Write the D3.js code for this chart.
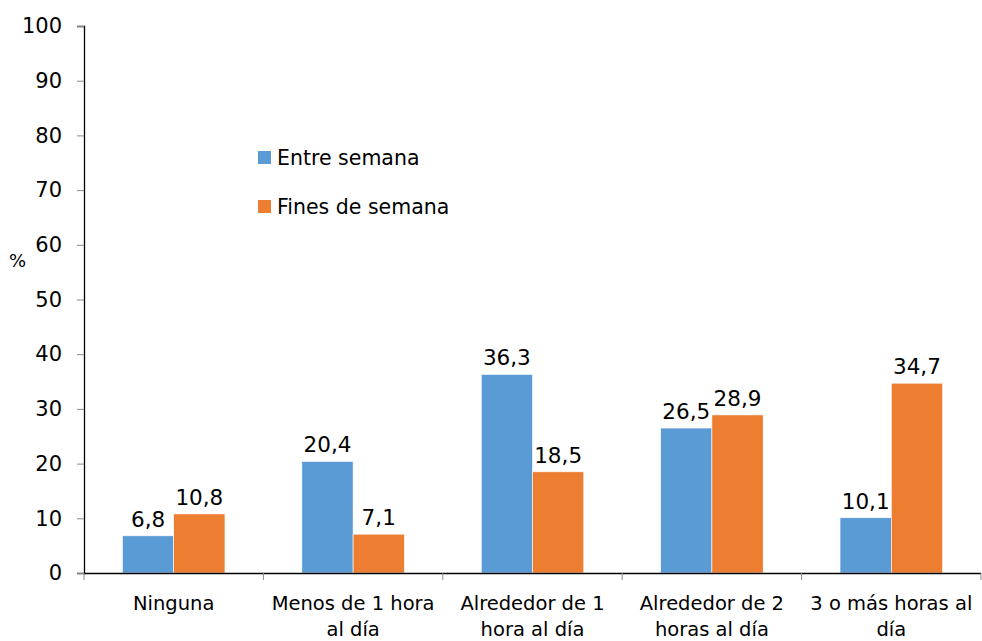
<!DOCTYPE html>
<html>
  <head>
    <meta charset="utf-8">
    <script src="https://cdn.jsdelivr.net/npm/d3@7"></script>
    <style>
      body { margin: 0px; background: #fff; }
      text { font-family: 'DejaVu Sans', sans-serif; fill: #000; }
      .axis .tick text { font-size: 21px; }
      .axis .tick line { stroke: #888; }
      .axis .domain { stroke: #000; stroke-width: 1.3px; }
      .label { font-size: 21.5px; }
      .cat-label { font-size: 19.5px; }
      .legend text { font-size: 20.5px; }
    </style>
  </head>
  <body>
    <svg width="982" height="641"></svg>
    <script>
      var categories = [
        ['Ninguna'],
        ['Menos de 1 hora', 'al día'],
        ['Alrededor de 1', 'hora al día'],
        ['Alrededor de 2', 'horas al día'],
        ['3 o más horas al', 'día']
      ];
      var seriesNames = ['Entre semana', 'Fines de semana'];
      var entreSemana = [6.8, 20.4, 36.3, 26.5, 10.1];
      var finesSemana = [10.8, 7.1, 18.5, 28.9, 34.7];
      var yTicks = [0, 10, 20, 30, 40, 50, 60, 70, 80, 90, 100];
      var colors = ['#5B9BD5', '#ED7D31'];

      var svg = d3.select('svg');
      var margin = { top: 26, right: 1, bottom: 68, left: 84 };
      var width = +svg.attr('width') - margin.left - margin.right;
      var height = +svg.attr('height') - margin.top - margin.bottom;
      var g = svg.append('g')
          .attr('transform', `translate(${margin.left},${margin.top})`);

      var series = [entreSemana, finesSemana];
      var idx = d3.range(categories.length);

      var x0 = d3.scaleBand().domain(idx).range([0, width]);
      var x1 = d3.scaleBand().domain([0, 1]).range([0, x0.bandwidth()]).paddingOuter(0.75);
      var y = d3.scaleLinear().domain([0, 100]).range([height, 0]);

      // y axis
      g.append('g').attr('class', 'axis')
          .call(d3.axisLeft(y).tickValues(yTicks).tickSize(7).tickPadding(15));

      // bars
      var groups = g.selectAll('.cat').data(idx).enter().append('g')
          .attr('transform', function (i) { return `translate(${x0(i)},0)`; });
      series.forEach(function (vals, s) {
        groups.append('rect')
            .attr('x', x1(s))
            .attr('width', x1.bandwidth())
            .attr('y', function (i) { return y(vals[i]); })
            .attr('height', function (i) { return height - y(vals[i]); })
            .attr('fill', colors[s])
            .attr('stroke', '#fff')
            .attr('stroke-width', 0.6);
        groups.append('text')
            .attr('class', 'label')
            .attr('text-anchor', 'middle')
            .attr('x', x1(s) + x1.bandwidth() / 2)
            .attr('y', function (i) { return y(vals[i]) - 9; })
            .text(function (i) { return String(vals[i]).replace('.', ','); });
      });

      // x axis
      var xAxisG = g.append('g').attr('class', 'axis')
          .attr('transform', `translate(0,${height})`)
          .call(d3.axisBottom(x0).tickSize(0).tickFormat(''));
      xAxisG.selectAll('.tick').remove();
      xAxisG.select('.domain').attr('d', `M0,0.5H${width}`);
      xAxisG.selectAll('.sep').data(d3.range(categories.length + 1)).enter().append('line')
          .attr('class', 'sep')
          .attr('x1', function (i) { return i * x0.bandwidth(); })
          .attr('x2', function (i) { return i * x0.bandwidth(); })
          .attr('y1', 0).attr('y2', 7)
          .attr('stroke', '#888');
      var catText = xAxisG.selectAll('.cat-label').data(idx).enter().append('text')
          .attr('class', 'cat-label')
          .attr('text-anchor', 'middle')
          .attr('x', function (i) { return x0(i) + x0.bandwidth() / 2; })
          .attr('y', 37);
      catText.each(function (i) {
        var t = d3.select(this);
        categories[i].forEach(function (line, k) {
          t.append('tspan')
              .attr('x', x0(i) + x0.bandwidth() / 2)
              .attr('dy', k === 0 ? 0 : 26)
              .text(line);
        });
      });

      // y label
      svg.append('text')
          .attr('x', 9).attr('y', 267).style('font-size', '18px')
          .text('%');

      // legend
      var legend = svg.append('g').attr('class', 'legend');
      seriesNames.forEach(function (name, s) {
        var ly = 151 + s * 49;
        legend.append('rect')
            .attr('x', 258).attr('y', ly).attr('width', 13).attr('height', 13)
            .attr('fill', colors[s]);
        legend.append('text')
            .attr('x', 277).attr('y', ly + 14)
            .text(name);
      });
    </script>
  </body>
</html>
